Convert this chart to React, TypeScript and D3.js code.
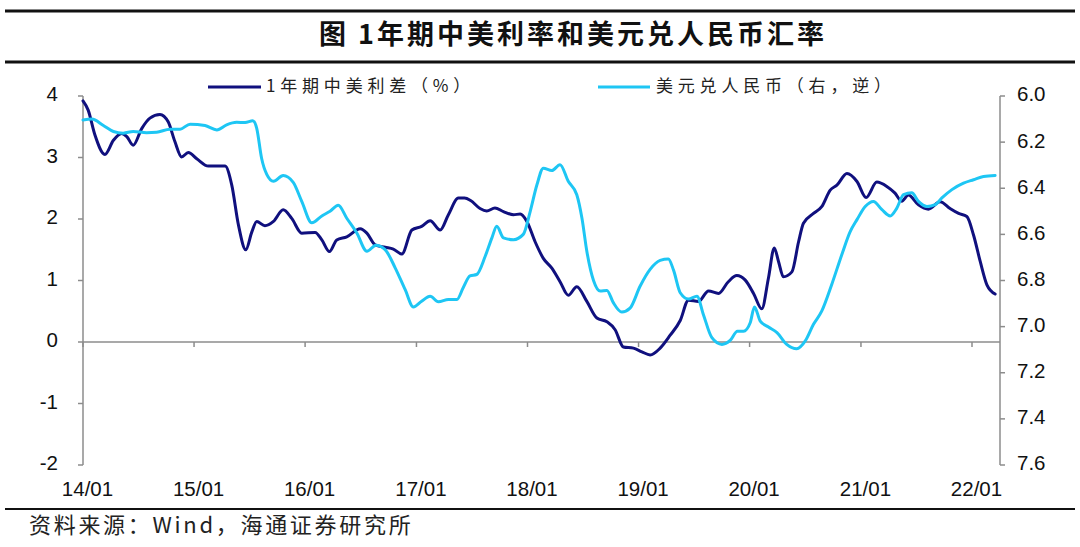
import React from "react";
import * as d3 from "d3";

const titleText = "图 1年期中美利率和美元兑人民币汇率";
const sourceText = "资料来源：Wind，海通证券研究所";
const legendSpread = "1年期中美利差（%）";
const legendFx = "美元兑人民币（右，逆）";

const xTickLabels = ["14/01", "15/01", "16/01", "17/01", "18/01", "19/01", "20/01", "21/01", "22/01"];
const xTickDates = ["2014-01-01", "2015-01-01", "2016-01-01", "2017-01-01", "2018-01-01", "2019-01-01", "2020-01-01", "2021-01-01", "2022-01-01"];
const leftTicks = [-2, -1, 0, 1, 2, 3, 4];
const rightTicks = [6.0, 6.2, 6.4, 6.6, 6.8, 7.0, 7.2, 7.4, 7.6];

const spreadDates = [
  "2014-01-01", "2014-01-18", "2014-02-09", "2014-03-14", "2014-04-11", "2014-05-08", "2014-05-25", "2014-06-15",
  "2014-07-13", "2014-08-09", "2014-09-11", "2014-10-08", "2014-10-30", "2014-11-21", "2014-12-13", "2015-01-10",
  "2015-02-17", "2015-04-13", "2015-05-05", "2015-05-27", "2015-06-20", "2015-07-10", "2015-07-26", "2015-08-22",
  "2015-09-19", "2015-10-21", "2015-11-18", "2015-12-21", "2016-02-03", "2016-02-25", "2016-03-21", "2016-04-14",
  "2016-05-17", "2016-06-30", "2016-07-22", "2016-08-18", "2016-09-20", "2016-10-17", "2016-11-14", "2016-12-17",
  "2017-01-18", "2017-02-15", "2017-03-20", "2017-04-16", "2017-05-19", "2017-06-08", "2017-06-28", "2017-07-29",
  "2017-08-20", "2017-09-16", "2017-10-14", "2017-11-16", "2017-12-08", "2017-12-30", "2018-01-26", "2018-02-22",
  "2018-03-22", "2018-04-18", "2018-05-15", "2018-06-12", "2018-07-15", "2018-08-17", "2018-09-19", "2018-10-16",
  "2018-11-12", "2018-12-15", "2019-01-12", "2019-02-08", "2019-03-13", "2019-04-15", "2019-05-18", "2019-06-14",
  "2019-07-17", "2019-08-19", "2019-09-21", "2019-10-23", "2019-11-20", "2019-12-17", "2020-01-14", "2020-02-10",
  "2020-03-03", "2020-03-22", "2020-04-05", "2020-04-21", "2020-05-19", "2020-06-10", "2020-06-26", "2020-07-29",
  "2020-08-25", "2020-09-22", "2020-10-14", "2020-11-16", "2020-12-19", "2021-01-18", "2021-02-22", "2021-03-27",
  "2021-04-23", "2021-05-15", "2021-06-06", "2021-07-09", "2021-08-11", "2021-09-18", "2021-10-21", "2021-11-18",
  "2021-12-15", "2022-01-06", "2022-01-28", "2022-02-19", "2022-03-18",
];
const spreadValues = [
  3.92, 3.77, 3.37, 3.05, 3.28, 3.39, 3.34, 3.2,
  3.47, 3.64, 3.7, 3.58, 3.26, 3.01, 3.08, 2.98,
  2.86, 2.86, 2.55, 1.9, 1.5, 1.79, 1.96, 1.89,
  1.96, 2.15, 2.01, 1.77, 1.78, 1.66, 1.47, 1.66,
  1.71, 1.84, 1.77, 1.58, 1.54, 1.51, 1.43, 1.82,
  1.88, 1.97, 1.82, 2.07, 2.34, 2.34, 2.3, 2.17,
  2.13, 2.18, 2.12, 2.07, 2.08, 1.96, 1.63, 1.36,
  1.2, 0.98, 0.76, 0.9, 0.66, 0.39, 0.33, 0.2,
  -0.08, -0.1, -0.16, -0.21, -0.1, 0.11, 0.35, 0.68,
  0.66, 0.83, 0.79, 0.98, 1.08, 1.01, 0.79, 0.54,
  1.04, 1.53, 1.31, 1.06, 1.14, 1.63, 1.93, 2.09,
  2.2, 2.47, 2.55, 2.74, 2.61, 2.35, 2.6, 2.53,
  2.42, 2.29, 2.39, 2.23, 2.16, 2.28, 2.17, 2.09,
  2.04, 1.74, 1.31, 0.93, 0.78,
];

const fxDates = [
  "2014-01-01", "2014-01-30", "2014-03-09", "2014-04-11", "2014-05-13", "2014-06-15", "2014-07-29", "2014-08-31",
  "2014-10-14", "2014-11-16", "2014-12-19", "2015-02-06", "2015-03-17", "2015-04-18", "2015-05-21", "2015-06-18",
  "2015-07-13", "2015-07-26", "2015-08-11", "2015-08-28", "2015-09-19", "2015-10-21", "2015-11-23", "2015-12-21",
  "2016-01-23", "2016-02-25", "2016-03-23", "2016-04-19", "2016-05-17", "2016-06-19", "2016-07-22", "2016-08-21",
  "2016-09-20", "2016-10-23", "2016-11-25", "2016-12-22", "2017-01-18", "2017-02-15", "2017-03-14", "2017-04-16",
  "2017-05-14", "2017-06-04", "2017-06-26", "2017-07-18", "2017-08-15", "2017-09-06", "2017-09-22", "2017-10-14",
  "2017-11-16", "2017-12-18", "2018-01-10", "2018-02-01", "2018-02-22", "2018-03-22", "2018-04-18", "2018-05-15",
  "2018-06-12", "2018-06-29", "2018-07-15", "2018-08-06", "2018-08-28", "2018-09-19", "2018-10-10", "2018-11-07",
  "2018-12-04", "2019-01-06", "2019-02-08", "2019-03-13", "2019-04-09", "2019-04-26", "2019-05-18", "2019-06-14",
  "2019-07-12", "2019-08-02", "2019-08-30", "2019-10-02", "2019-10-29", "2019-11-22", "2019-12-12", "2020-01-03",
  "2020-01-17", "2020-02-05", "2020-03-03", "2020-03-31", "2020-05-02", "2020-06-04", "2020-07-02", "2020-07-29",
  "2020-08-25", "2020-09-27", "2020-10-30", "2020-11-27", "2020-12-19", "2021-01-15", "2021-02-11", "2021-03-11",
  "2021-04-07", "2021-04-29", "2021-05-21", "2021-06-17", "2021-07-09", "2021-08-06", "2021-09-02", "2021-09-24",
  "2021-10-27", "2021-12-04", "2022-01-06", "2022-02-08", "2022-03-18",
];
const fxValues = [
  6.104, 6.1, 6.128, 6.154, 6.161, 6.154, 6.159, 6.157,
  6.144, 6.144, 6.122, 6.128, 6.147, 6.125, 6.114, 6.115,
  6.107, 6.14, 6.27, 6.34, 6.37, 6.345, 6.375, 6.457,
  6.55, 6.52, 6.5, 6.474, 6.53, 6.594, 6.673, 6.647,
  6.666, 6.745, 6.84, 6.915, 6.89, 6.868, 6.892, 6.882,
  6.882, 6.83, 6.78, 6.774, 6.695, 6.615, 6.565, 6.615,
  6.623, 6.6, 6.5, 6.385, 6.313, 6.323, 6.298, 6.37,
  6.428, 6.53, 6.673, 6.8, 6.846, 6.843, 6.896, 6.937,
  6.92, 6.825, 6.752, 6.713, 6.707, 6.755, 6.853, 6.88,
  6.868, 6.947, 7.048, 7.077, 7.06, 7.02, 7.02, 6.983,
  6.915, 6.976, 7.002, 7.026, 7.077, 7.096, 7.062, 6.99,
  6.933, 6.817, 6.688, 6.587, 6.536, 6.479, 6.457, 6.493,
  6.52, 6.486, 6.428, 6.42, 6.457, 6.479, 6.471, 6.442,
  6.406, 6.378, 6.363, 6.349, 6.345,
];

const NAVY = "#10107e";
const CYAN = "#1ec6f4";
const AXIS = "#8c8c8c";
const NUM_FONT = "'Liberation Sans', Arial, sans-serif";
const CJK_FONT = "'Noto Sans CJK SC', sans-serif";

export default function App() {
  const parse = d3.timeParse("%Y-%m-%d");
  const x = d3.scaleTime().domain([parse("2014-01-01")!, parse("2022-01-01")!]).range([83, 972]);
  const yL = d3.scaleLinear().domain([-2, 4]).range([465, 96]);
  const yR = d3.scaleLinear().domain([6.0, 7.6]).range([96, 465]);

  const spread = spreadDates.map((d, i) => ({ d: parse(d)!, v: spreadValues[i] }));
  const fx = fxDates.map((d, i) => ({ d: parse(d)!, v: fxValues[i] }));

  const lineL = d3.line<{ d: Date; v: number }>().x((p) => x(p.d)).y((p) => yL(p.v)).curve(d3.curveMonotoneX);
  const lineR = d3.line<{ d: Date; v: number }>().x((p) => x(p.d)).y((p) => yR(p.v)).curve(d3.curveMonotoneX);

  const axisLeftX = 83;
  const axisRightX = 1000;
  const zeroY = yL(0);

  return (
    <svg width={1080} height={547} style={{ position: "absolute", left: 0, top: 0, background: "#fff" }}>
      <rect x={0} y={0} width={1080} height={547} fill="#fff" />
      {/* header rules */}
      <line x1={5} x2={1075} y1={11} y2={11} stroke="#111" strokeWidth={3} />
      <line x1={5} x2={1075} y1={62} y2={62} stroke="#111" strokeWidth={3} />
      <text x={573} y={37} textAnchor="middle" dominantBaseline="middle" fontFamily={CJK_FONT} fontWeight={700} fontSize={27} letterSpacing={3} fill="#111">
        {titleText}
      </text>

      {/* legend */}
      <line x1={208} x2={261} y1={87} y2={87} stroke={NAVY} strokeWidth={3} />
      <text x={266} y={87} dominantBaseline="middle" fontFamily={CJK_FONT} fontSize={17} letterSpacing={4.8} fill="#222">
        {legendSpread}
      </text>
      <line x1={598} x2={650} y1={87} y2={87} stroke={CYAN} strokeWidth={3} />
      <text x={656} y={87} dominantBaseline="middle" fontFamily={CJK_FONT} fontSize={17} letterSpacing={4.8} fill="#222">
        {legendFx}
      </text>

      {/* left axis */}
      <line x1={axisLeftX} x2={axisLeftX} y1={96} y2={465} stroke={AXIS} strokeWidth={1.5} />
      {leftTicks.map((t) => (
        <g key={"l" + t}>
          <line x1={axisLeftX - 5} x2={axisLeftX} y1={yL(t)} y2={yL(t)} stroke={AXIS} strokeWidth={1.5} />
          <text x={58} y={yL(t)} textAnchor="end" dominantBaseline="middle" fontFamily={NUM_FONT} fontSize={20.5} fill="#111">
            {t}
          </text>
        </g>
      ))}

      {/* right axis */}
      <line x1={axisRightX} x2={axisRightX} y1={96} y2={465} stroke={AXIS} strokeWidth={1.5} />
      {rightTicks.map((t) => (
        <g key={"r" + t}>
          <line x1={axisRightX} x2={axisRightX + 5} y1={yR(t)} y2={yR(t)} stroke={AXIS} strokeWidth={1.5} />
          <text x={1017} y={yR(t)} dominantBaseline="middle" fontFamily={NUM_FONT} fontSize={20.5} fill="#111">
            {t.toFixed(1)}
          </text>
        </g>
      ))}

      {/* x axis at zero */}
      <line x1={axisLeftX} x2={axisRightX} y1={zeroY} y2={zeroY} stroke={AXIS} strokeWidth={1.5} />
      {xTickDates.map((d, i) => {
        const px = x(parse(d)!);
        return (
          <g key={"x" + d}>
            <line x1={px} x2={px} y1={zeroY} y2={zeroY + 5} stroke={AXIS} strokeWidth={1.5} />
            <text x={px + 4.5} y={491} textAnchor="middle" dominantBaseline="middle" fontFamily={NUM_FONT} fontSize={20.5} fill="#111">
              {xTickLabels[i]}
            </text>
          </g>
        );
      })}

      {/* series */}
      <path d={lineL(spread) || ""} fill="none" stroke={NAVY} strokeWidth={3} strokeLinejoin="round" strokeLinecap="round" />
      <path d={lineR(fx) || ""} fill="none" stroke={CYAN} strokeWidth={3} strokeLinejoin="round" strokeLinecap="round" />

      {/* footer */}
      <line x1={5} x2={1075} y1={509} y2={509} stroke="#111" strokeWidth={2.2} />
      <text x={29} y={527} dominantBaseline="middle" fontFamily={CJK_FONT} fontSize={22} letterSpacing={2.7} fill="#222">
        {sourceText}
      </text>
    </svg>
  );
}
